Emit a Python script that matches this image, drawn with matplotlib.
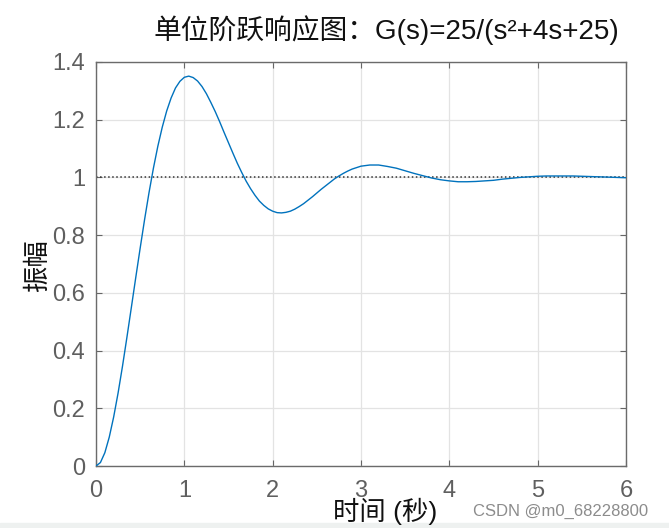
import matplotlib
matplotlib.use("Agg")
import matplotlib.pyplot as plt
from matplotlib.patches import Rectangle
from matplotlib.ticker import FuncFormatter

# step response: every 0.05 s up to 3 s, then every 0.1 s
t = [0.00, 0.05, 0.10, 0.15, 0.20, 0.25, 0.30, 0.35, 0.40, 0.45,
     0.50, 0.55, 0.60, 0.65, 0.70, 0.75, 0.80, 0.85, 0.90, 0.95,
     1.00, 1.05, 1.10, 1.15, 1.20, 1.25, 1.30, 1.35, 1.40, 1.45,
     1.50, 1.55, 1.60, 1.65, 1.70, 1.75, 1.80, 1.85, 1.90, 1.95,
     2.00, 2.05, 2.10, 2.15, 2.20, 2.25, 2.30, 2.35, 2.40, 2.45,
     2.50, 2.55, 2.60, 2.65, 2.70, 2.75, 2.80, 2.85, 2.90, 2.95,
     3.0, 3.1, 3.2, 3.3, 3.4, 3.5, 3.6, 3.7, 3.8, 3.9,
     4.0, 4.1, 4.2, 4.3, 4.4, 4.5, 4.6, 4.7, 4.8, 4.9,
     5.0, 5.1, 5.2, 5.3, 5.4, 5.5, 5.6, 5.7, 5.8, 5.9, 6.0]
amp = [0.000, 0.012, 0.046, 0.100, 0.170, 0.253, 0.346, 0.446, 0.549, 0.653,
       0.755, 0.854, 0.947, 1.032, 1.108, 1.174, 1.230, 1.275, 1.310, 1.333,
       1.347, 1.351, 1.346, 1.334, 1.315, 1.290, 1.260, 1.228, 1.193, 1.156,
       1.120, 1.084, 1.049, 1.017, 0.987, 0.961, 0.938, 0.918, 0.903, 0.891,
       0.883, 0.878, 0.877, 0.879, 0.883, 0.890, 0.899, 0.909, 0.921, 0.933,
       0.946, 0.959, 0.971, 0.983, 0.995, 1.005, 1.014, 1.022, 1.029, 1.034,
       1.039, 1.043, 1.043, 1.038, 1.032, 1.023, 1.014, 1.006, 0.998, 0.992,
       0.988, 0.985, 0.985, 0.986, 0.988, 0.990, 0.994, 0.997, 1.000, 1.002,
       1.004, 1.005, 1.005, 1.005, 1.005, 1.004, 1.003, 1.002, 1.001, 1.000,
       0.999]
final_value = 1.0

x_ticks = [0, 1, 2, 3, 4, 5, 6]
y_ticks = [0, 0.2, 0.4, 0.6, 0.8, 1.0, 1.2, 1.4]

title = "单位阶跃响应图：G(s)=25/(s²+4s+25)"
x_label = "时间 (秒)"
y_label = "振幅"
watermark = "CSDN @m0_68228800"

plt.rcParams["font.family"] = ["Liberation Sans", "Noto Sans CJK SC", "DejaVu Sans"]

fig = plt.figure(figsize=(6.69, 5.28), dpi=100)
ax = fig.add_axes([0.1435, 0.1174, 0.7922, 0.7652])

ax.plot(t, amp, color="#0072BD", lw=1.0, zorder=3)
ax.axhline(final_value, color="#333333", ls=":", lw=1.1, zorder=2)

ax.set_xlim(0, 6)
ax.set_ylim(0, 1.4)
ax.set_xticks(x_ticks)
ax.set_yticks(y_ticks)
ax.yaxis.set_major_formatter(FuncFormatter(lambda v, p: f"{v:g}"))

ax.grid(True, color="#e3e3e3", lw=0.9)
ax.set_axisbelow(True)
ax.tick_params(direction="in", length=4, width=0.8, color="#666666",
               labelcolor="#5f5f5f", labelsize=17, top=True, right=True)
ax.tick_params(axis="x", pad=10)
ax.tick_params(axis="y", pad=8)
for s in ax.spines.values():
    s.set_color("#6b6b6b")
    s.set_linewidth(1.0)

fig.text(0.577, 0.943, title, ha="center", va="center", fontsize=20,
         color="#111111")
fig.text(0.575, 0.032, x_label, ha="center", va="center", fontsize=19,
         color="#111111")
fig.text(0.057, 0.496, y_label, ha="center", va="center", fontsize=19,
         rotation=90, color="#111111")
fig.text(0.838, 0.032, watermark, ha="center", va="center", fontsize=12,
         color="#8c8c8c")

# light strip along the bottom edge of the screenshot
fig.patches.append(Rectangle((0, 0), 1, 0.01, transform=fig.transFigure,
                             color="#eef1f0", zorder=0))

fig.savefig("out.png", dpi=100, facecolor="white")
